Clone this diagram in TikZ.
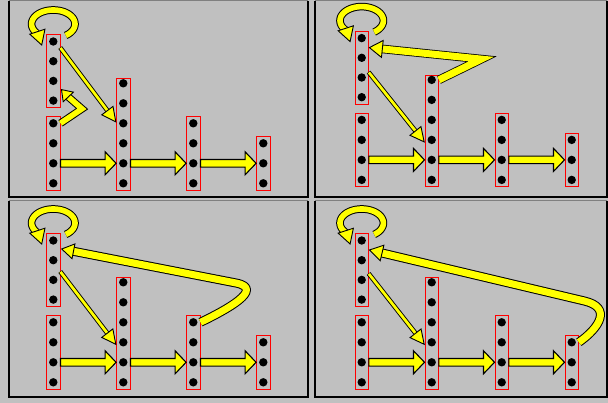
\documentclass[tikz,border=0pt]{standalone}
\usetikzlibrary{calc}
\definecolor{bg}{HTML}{C0C0C0}
\definecolor{ylw}{HTML}{FFFF00}
\definecolor{rd}{HTML}{FF0000}
\definecolor{dkg}{HTML}{808080}
\tikzset{
 col/.style={draw=rd, line width=1pt, rectangle, inner sep=0pt, minimum width=13.4pt},
 dot/.style={circle, fill=black, inner sep=0pt, minimum size=8.4pt},
 fatarrow/.style={fill=ylw, draw=black, line width=1.1pt, line join=miter},
 headst/.style={fill=ylw, draw=black, line width=0.9pt, line join=miter},
 outl/.style={draw=black, line cap=butt},
 inl/.style={draw=ylw, line cap=butt},
}
\newcommand\harrow[2]{%
 \filldraw[fatarrow] let \p1=(#1), \p2=(#2) in
  (\x1,{\y1+3.8pt}) -- ({\x2-11pt},{\y1+3.8pt}) -- ({\x2-11pt},{\y1+11.5pt}) -- (\x2,\y1)
  -- ({\x2-11pt},{\y1-11.5pt}) -- ({\x2-11pt},{\y1-3.8pt}) -- (\x1,{\y1-3.8pt}) -- cycle;}
\newcommand\fat[4][round]{%
 \draw[outl, line width=#2pt, line join=#1] #4;
 \draw[inl, line width=#3pt, line join=#1] #4;}
\newcommand\headat[4]{%
 \filldraw[headst] (#1) -- ($(#1)+(#2:#3)+(#2+90:#4)$) -- ($(#1)+(#2:#3)+(#2-90:#4)$) -- cycle;}
\newcommand\thinarrow[2]{%
 \draw[black, line width=4.6pt, shorten >=10pt, shorten <=-0.5pt] (#1) -- (#2);
 \draw[ylw, line width=2.8pt, shorten >=10pt] (#1) -- (#2);
 \filldraw[headst] let \p1=(#1), \p2=(#2), \n1={atan2(\y1-\y2,\x1-\x2)} in
  (\p2) -- ($(\p2)+(\n1:14pt)+(\n1+90:7pt)$) -- ($(\p2)+(\n1:14pt)+(\n1-90:7pt)$) -- cycle;}
\newcommand\panel[3]{%
 \node[col, minimum height=73.2pt] (#1At) at ({#2+53.3},{#3+71.1}) {};
 \node[col, minimum height=73.5pt] (#1Ab) at ({#2+53.3},{#3+153.3}) {};
 \node[col, minimum height=111.5pt] (#1B) at ({#2+123.3},{#3+134.3}) {};
 \node[col, minimum height=73.5pt] (#1C) at ({#2+193.3},{#3+153.3}) {};
 \node[col, minimum height=53.5pt] (#1D) at ({#2+263.3},{#3+163.3}) {};
 \foreach \i/\yy in {1/41.5,2/61.2,3/80.9,4/100.6}{\node[dot] (#1At\i) at ({#2+53.3},{#3+\yy}) {};}
 \foreach \i/\yy in {1/123.3,2/143.3,3/163.3,4/183.3}{%
   \node[dot] (#1Ab\i) at ({#2+53.3},{#3+\yy}) {};
   \node[dot] (#1C\i) at ({#2+193.3},{#3+\yy}) {};}
 \foreach \i/\yy in {1/83.3,2/103.3,3/123.3,4/143.3,5/163.3,6/183.3}{\node[dot] (#1B\i) at ({#2+123.3},{#3+\yy}) {};}
 \foreach \i/\yy in {1/143.3,2/163.3,3/183.3}{\node[dot] (#1D\i) at ({#2+263.3},{#3+\yy}) {};}
 \harrow{#1Ab.east|-#1Ab3}{#1B.west|-#1B5}
 \harrow{#1B.east|-#1B5}{#1C.west|-#1C3}
 \harrow{#1C.east|-#1C3}{#1D.west|-#1D2}
 \coordinate (#1lt) at ($(#1At.north)+(-11.6,11)$);
 \fat{7.6}{5.6}{[shift={(#1At.north)}] plot[domain=55:-222,samples=60] ({21.7*cos(\x)},{-10+14*sin(\x)})}
 \headat{#1lt}{252}{14}{8}
}
\begin{document}
\begin{tikzpicture}[x=1pt,y=-1pt]
\useasboundingbox (0,0) rectangle (608,403);
\fill[bg] (0,0) rectangle (608,403);
\foreach \xa/\ya/\xb/\yb in {8.5/0.6/307.8/197, 315/0.6/607/197, 8.5/200.6/307.8/396.5, 315/200.6/607/396.5}{
 \draw[dkg, line width=1pt] (\xa,\ya) -- (\xb,\ya);
 \draw[black, line width=2pt] (\xa,\ya) -- (\xa,\yb) -- (\xb,\yb) -- (\xb,\ya);}
\panel{P1}{0}{0}
\panel{P2}{308.4}{-3.4}
\panel{P3}{0}{199}
\panel{P4}{308.4}{199}
% P1
\coordinate (P1ds) at ($(P1At.east|-P1At1)+(0,6.5)$);
\coordinate (P1dt) at ($(P1B.west|-P1B3)+(-0.3,-1.5)$);
\thinarrow{P1ds}{P1dt}
\coordinate (P1fs) at (P1Ab.east|-P1Ab1);
\coordinate (P1ft) at ($(P1At.east|-P1At4)+(1,-11)$);
\fat[miter]{7.6}{5.6}{(P1fs) -- ($(P1fs)+(21.5,-14.5)$) -- ($(P1ft)+(47:10)$)}
\headat{P1ft}{47}{10}{7}
% P2
\coordinate (P2ds) at ($(P2At.east|-P2At3)+(0,-5)$);
\coordinate (P2dt) at ($(P2B.west|-P2B4)+(-0.3,2)$);
\thinarrow{P2ds}{P2dt}
\coordinate (P2fs) at (P2B.east|-P2B1);
\coordinate (P2ft) at ($(P2At.east|-P2At1)+(0.5,9.5)$);
\fat[miter]{8.6}{7}{(P2fs) -- ($(P2fs)+(42.5,-20.8)$) -- ($(P2ft)+(5.9:13)$)}
\headat{P2ft}{5.9}{13}{8.5}
% P3
\coordinate (P3ds) at ($(P3At.east|-P3At3)+(0,-8)$);
\coordinate (P3dt) at ($(P3B.west|-P3B4)+(-0.3,2)$);
\thinarrow{P3ds}{P3dt}
\coordinate (P3fs) at (P3C.east|-P3C1);
\coordinate (P3ft) at ($(P3At.east|-P3At1)+(1.2,8.5)$);
\coordinate (P3fe) at ($(P3fs)+(35.5,-39.3)$);
\fat{9}{7}{(P3fs) .. controls ($(P3fs)+(25.5,-12.3)$) and ($(P3fe)+(11:30)$) .. (P3fe) -- ($(P3ft)+(11:12)$)}
\headat{P3ft}{11}{12}{7.5}
% P4
\coordinate (P4ds) at ($(P4At.east|-P4At3)+(0,-6)$);
\coordinate (P4dt) at ($(P4B.west|-P4B4)+(-0.3,2)$);
\thinarrow{P4ds}{P4dt}
\coordinate (P4fs) at (P4D.east|-P4D1);
\coordinate (P4ft) at ($(P4At.east|-P4At1)+(0.5,9.5)$);
\coordinate (P4fe) at ($(P4fs)+(5.5,-41.3)$);
\fat{9}{7}{(P4fs) .. controls ($(P4fs)+(21.5,-15.3)$) and ($(P4fe)+(13.3:28)$) .. (P4fe) -- ($(P4ft)+(13.3:13)$)}
\headat{P4ft}{13.3}{13}{8}
\end{tikzpicture}
\end{document}
